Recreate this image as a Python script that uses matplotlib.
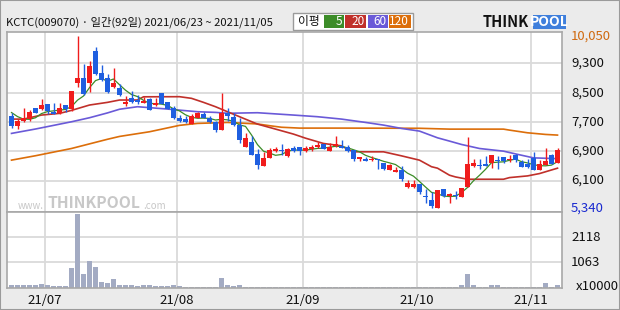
"""KCTC daily candle chart (ThinkPool style) with moving averages and volume."""

import numpy as np
import pandas as pd
import matplotlib
matplotlib.use('Agg')
import matplotlib.pyplot as plt
from matplotlib.patches import Rectangle

plt.rcParams['font.family'] = ['Noto Sans CJK KR', 'DejaVu Sans']

# ── data ────────────────────────────────────────────────────────
holidays = ['2021-08-16', '2021-09-20', '2021-09-21', '2021-09-22',
            '2021-10-04', '2021-10-11']

opens = [7870, 7600, 7720, 7780, 8080, 8060, 8200, 7980, 7940, 8170,
         8060, 8760, 8910, 8760, 9630, 9050, 8910, 8650, 8640, 8200,
         8350, 8310, 8230, 8330, 8170, 8500, 8240, 8080, 7820, 7770,
         7640, 7820, 7930, 7820, 7710, 7470, 7940, 7850, 7620, 7030,
         7160, 6830, 6490, 6730, 6920, 6940, 6770, 7000, 7010, 6910,
         6960, 7020, 7090, 6920, 7050, 7050, 7020, 6930, 6680, 6690,
         6660, 6680, 6590, 6390, 6330, 6400, 5930, 5930, 6020, 5680,
         5570, 5350, 5870, 5680, 5720, 5640, 5930, 6490, 6530, 6560,
         6580, 6670, 6740, 6650, 6810, 6610, 6560, 6730, 6390, 6530,
         6800, 6570]
highs = [7960, 7780, 8090, 8020, 8090, 8340, 8200, 8220, 8210, 8170,
         8560, 10050, 9290, 9370, 9750, 9260, 9010, 9190, 8730, 8420,
         8550, 8440, 8380, 8370, 8350, 8500, 8240, 8150, 7890, 7870,
         7920, 7980, 7980, 7870, 7730, 8500, 8090, 7940, 7800, 7390,
         7330, 6960, 6890, 6980, 7020, 7100, 7000, 7050, 7020, 7050,
         7070, 7160, 7110, 7140, 7330, 7210, 7070, 6930, 6740, 6740,
         6780, 6700, 6590, 6560, 6470, 6490, 6110, 6110, 6020, 5860,
         5790, 5850, 5870, 5760, 5810, 5900, 7300, 6700, 6700, 6780,
         6810, 6780, 6740, 6810, 6830, 6670, 6700, 6890, 6670, 6980,
         6830, 6980]
lows = [7540, 7500, 7710, 7730, 7940, 8020, 7910, 7910, 7920, 7980,
        8000, 8650, 8440, 8530, 8990, 8830, 8500, 8620, 8420, 8150,
        8210, 8180, 8220, 8020, 8150, 8180, 8060, 7780, 7690, 7680,
        7640, 7800, 7800, 7670, 7440, 7470, 7730, 7600, 7140, 7030,
        6790, 6430, 6490, 6730, 6890, 6810, 6750, 6890, 6810, 6870,
        6910, 7000, 6960, 6920, 7010, 6980, 6870, 6630, 6630, 6630,
        6630, 6430, 6390, 6390, 6330, 6080, 5900, 5900, 5730, 5500,
        5340, 5350, 5640, 5500, 5610, 5640, 5930, 6470, 6430, 6490,
        6450, 6410, 6590, 6620, 6610, 6460, 6450, 6400, 6380, 6530,
        6560, 6570]
closes = [7600, 7740, 7810, 7980, 7960, 8170, 8010, 7910, 8080, 8050,
          8560, 8890, 8480, 9220, 9010, 8850, 8520, 8780, 8440, 8260,
          8260, 8240, 8270, 8020, 8220, 8200, 8070, 7800, 7730, 7690,
          7860, 7940, 7820, 7690, 7470, 7960, 7860, 7620, 7200, 7270,
          6790, 6540, 6720, 6950, 6960, 6900, 6970, 6920, 6900, 6980,
          7020, 7080, 6960, 7020, 7110, 7000, 6900, 6690, 6740, 6630,
          6700, 6660, 6410, 6530, 6400, 6140, 6040, 6000, 5800, 5650,
          5410, 5850, 5680, 5740, 5690, 5900, 6560, 6590, 6490, 6500,
          6810, 6630, 6640, 6700, 6660, 6460, 6460, 6400, 6560, 6640,
          6560, 6940]
# volume, x10000 shares
volumes = [95, 98, 92, 96, 94, 139, 97, 55, 83, 55,
           807, 3064, 570, 1100, 849, 222, 194, 347, 97, 97,
           97, 55, 97, 97, 55, 83, 55, 97, 55, 45,
           45, 45, 45, 45, 45, 389, 97, 55, 97, 40,
           40, 40, 40, 40, 40, 40, 40, 40, 40, 40,
           40, 40, 40, 40, 40, 40, 40, 40, 40, 40,
           40, 40, 40, 40, 40, 40, 40, 40, 40, 40,
           40, 40, 40, 40, 40, 97, 570, 97, 45, 45,
           111, 111, 45, 45, 45, 45, 45, 45, 45, 194,
           45, 111]

# 5-day MA of the first four days (needs closes before the window)
ma5_head = [7960, 7850, 7780, 7775]

# longer MAs at sample days
ma20_idx = [0, 2, 5, 8, 10, 13, 16, 18, 21, 22, 28, 30, 32, 34, 36, 38,
            41, 44, 47, 49, 52, 55, 56, 57, 62, 65, 68, 70, 71, 73, 74,
            76, 82, 83, 86, 88, 91]
ma20_val = [7781, 7781, 7891, 7937, 8019, 8165, 8238, 8302, 8302, 8390,
            8393, 8348, 8238, 8119, 7982, 7846, 7644, 7508, 7371, 7260,
            7115, 7050, 6960, 6887, 6887, 6777, 6659, 6480, 6440, 6248,
            6201, 6138, 6138, 6183, 6229, 6293, 6440]
ma60_idx = [0, 4, 10, 13, 16, 18, 21, 26, 31, 34, 36, 41, 47, 51, 55,
            59, 62, 65, 68, 71, 73, 75, 78, 82, 84, 87, 91]
ma60_val = [7390, 7510, 7708, 7818, 7950, 8050, 8119, 8055, 7982, 7964,
            7940, 7955, 7891, 7846, 7781, 7690, 7617, 7526, 7453, 7270,
            7180, 7088, 6978, 6905, 6830, 6722, 6700]
ma120_idx = [0, 4, 10, 16, 18, 23, 28, 31, 36, 41, 43, 45, 48, 55, 68,
             73, 82, 83, 86, 89, 91]
ma120_val = [6660, 6780, 6978, 7230, 7307, 7435, 7610, 7663, 7690, 7648,
             7601, 7558, 7535, 7535, 7530, 7507, 7507, 7480, 7407, 7362,
             7344]

price_ticks = [9300, 8500, 7700, 6900, 6100]
vol_ticks = [1063, 2118]
ma_names = ['5', '20', '60', '120']

# ── styling ─────────────────────────────────────────────────────
RED, BLUE = '#f01c1c', '#1f5fe0'
MA_COLORS = ['#3c8c28', '#c0302a', '#6a5ad8', '#dc6e0a']
GRID, SPINE, BG = '#dadada', '#a8a8a8', '#ebebeb'
WM = '#c8c8c8'
W, H = 620, 310


def fx(px):
    return px / W


def fy(py):
    return 1 - py / H


days = pd.bdate_range('2021-06-23', '2021-11-05').drop(pd.to_datetime(holidays))
n = len(days)
x = np.arange(n)
opens, highs, lows, closes = map(np.array, (opens, highs, lows, closes))
month_starts = [i for i in range(1, n) if days[i].month != days[i - 1].month]

ma5 = pd.Series(closes).rolling(5).mean().to_numpy()
ma5[:4] = ma5_head

fig = plt.figure(figsize=(W / 100, H / 100), dpi=100, facecolor=BG)
left, right, top, mid, bot = 7.3, 561.7, 32, 212.3, 287.7
ax = fig.add_axes([fx(left), fy(mid), (right - left) / W, (mid - top) / H])
axv = fig.add_axes([fx(left), fy(bot), (right - left) / W, (bot - mid) / H])

for a in (ax, axv):
    a.set_xlim(-0.7, n - 0.3)
    a.set_xticks([])
    a.set_yticks([])
    for s in a.spines.values():
        s.set_color(SPINE)
        s.set_linewidth(1.2)
    for i in month_starts:
        a.axvline(i - 0.5, color=GRID, lw=1.3, zorder=0)

# ── price panel ─────────────────────────────────────────────────
ax.set_ylim(5235, 10160)
for p in price_ticks:
    ax.axhline(p, color=GRID, lw=1.3, zorder=0)

ax.plot(ma120_idx, ma120_val, color=MA_COLORS[3], lw=1.2, zorder=2)
ax.plot(ma60_idx, ma60_val, color=MA_COLORS[2], lw=1.2, zorder=2)
ax.plot(ma20_idx, ma20_val, color=MA_COLORS[1], lw=1.2, zorder=2)
ax.plot(x, ma5, color=MA_COLORS[0], lw=0.9, zorder=2)

colors = np.where(closes >= opens, RED, BLUE)
ax.vlines(x, lows, highs, colors=colors, lw=1.0, zorder=3)
body_lo = np.minimum(opens, closes)
body_h = np.maximum(np.abs(closes - opens), 30)
ax.bar(x, body_h, bottom=body_lo, width=0.8, color=colors, lw=0, zorder=4)

ytr = ax.get_yaxis_transform()
for p in price_ticks:
    ax.text(1.017, p, f'{p:,}', transform=ytr, va='center', ha='left',
            fontsize=9.5, color='#111111', clip_on=False)
ax.text(1.017, highs.max(), f'{highs.max():,}', transform=ytr, va='center',
        ha='left', fontsize=9.5, color='#d06a10', clip_on=False)
ax.text(1.017, lows.min(), f'{lows.min():,}', transform=ytr, va='center',
        ha='left', fontsize=9.5, color='#1a2ad0', clip_on=False)

# watermark
fig.text(fx(18), fy(206), 'www.', fontsize=7, color=WM, va='center')
fig.text(fx(47), fy(203), 'THINKPOOL', fontsize=11.3, fontweight='bold',
         color=WM, va='center')
fig.text(fx(143), fy(206), '.com', fontsize=7, color=WM, va='center')

# ── volume panel ────────────────────────────────────────────────
axv.set_ylim(0, 3152)
for v in vol_ticks:
    axv.axhline(v, color=GRID, lw=1.3, zorder=0)
axv.bar(x, volumes, width=0.8, color='#a3abc3', lw=0, zorder=2)

vtr = axv.get_yaxis_transform()
for v in vol_ticks:
    axv.text(1.017, v, str(v), transform=vtr, va='center', ha='left',
             fontsize=9.5, color='#111111', clip_on=False)
axv.text(1.026, 0.02, 'x10000', transform=axv.transAxes, va='center',
         ha='left', fontsize=9.5, color='#111111', clip_on=False)

xtr = axv.get_xaxis_transform()
for i in month_starts:
    axv.text(i - 0.5, -0.165, days[i].strftime('%y/%m'), transform=xtr,
             ha='center', va='center', fontsize=9.5, color='#111111',
             clip_on=False)

# ── header ──────────────────────────────────────────────────────
fig.text(fx(6), fy(22), 'KCTC(009070) · 일간(92일) 2021/06/23 ~ 2021/11/05',
         fontsize=8.1, color='#111111', va='center', ha='left')

fig.add_artist(Rectangle((fx(293), fy(30)), fx(120), 17.3 / H,
                         transform=fig.transFigure, facecolor='white',
                         edgecolor='#9a9a9a', lw=1.0))
fig.text(fx(298), fy(21.5), '이평', fontsize=8.5, color='#111111', va='center')
box_x = [324, 345, 368, 389.5]
box_w = [20, 21, 19.5, 21]
for bx, bw, c, name in zip(box_x, box_w, MA_COLORS, ma_names):
    fig.add_artist(Rectangle((fx(bx), fy(27.5)), fx(bw), 12.5 / H,
                             transform=fig.transFigure, facecolor=c, lw=0))
    fig.text(fx(bx + bw - 1.5), fy(21.5), name, fontsize=8.5, color='white',
             va='center', ha='right')

# logo
fig.text(fx(483), fy(22), 'THINK', fontsize=10.5, fontweight='bold',
         color='#111111', va='center', ha='left')
fig.add_artist(Rectangle((fx(533), fy(28.5)), fx(33), 13.5 / H,
                         transform=fig.transFigure, facecolor='#3f7fdc', lw=0))
fig.text(fx(549.5), fy(22), 'POOL', fontsize=10, fontweight='bold',
         color='white', va='center', ha='center')

fig.add_artist(Rectangle((0, 0), 1, 1, transform=fig.transFigure,
                         facecolor='none', edgecolor='#9a9a9a', lw=1.5))

fig.savefig('out.png', dpi=100, facecolor=BG)
